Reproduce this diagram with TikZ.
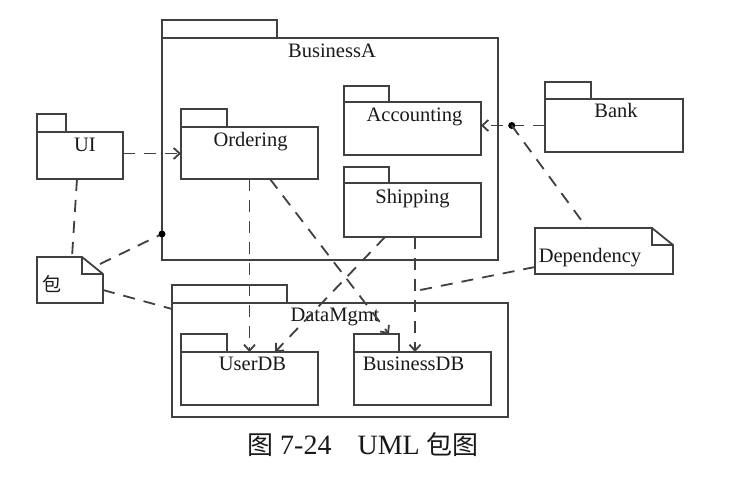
\documentclass[tikz,border=0pt]{standalone}
\usepackage{fontspec}
\setmainfont{Liberation Serif}
\newfontfamily\cjk{Noto Sans CJK SC}
\usetikzlibrary{arrows.meta,calc}
\begin{document}
\begin{tikzpicture}[x=1pt,y=-1pt,line width=1.8pt,
  every path/.style={draw=black!75},
  pkgbody/.style={draw=black!75,rectangle,anchor=north west,inner sep=0pt,outer sep=0pt},
  notebox/.style={draw=none,rectangle,anchor=north west,inner sep=0pt,outer sep=0pt},
  lbl/.style={anchor=base,inner sep=0pt,text=black!90,font=\fontsize{20.5}{21}\selectfont},
  link/.style={dash pattern=on 12pt off 9pt},
  dep/.style={dash pattern=on 12pt off 9pt,-{Straight Barb[length=6pt,width=11pt]}},
  dotmark/.style={circle,fill=black,inner sep=0pt,minimum size=7pt}]
\useasboundingbox[fill=white,draw=none] (0,0) rectangle (730,482);

% BusinessA
\node[pkgbody,minimum width=336pt,minimum height=222pt] (bizA) at (162,38) {};
\draw (bizA.north west) rectangle ++(115,-18);
\node[lbl] (bizAT) at ([xshift=2pt,yshift=-19pt]bizA.north) {BusinessA};

% Ordering
\node[pkgbody,minimum width=137pt,minimum height=52pt] (ordering) at (181,127) {};
\draw (ordering.north west) rectangle ++(46,-18);
\node[lbl] (orderingT) at ([xshift=1pt,yshift=-19pt]ordering.north) {Ordering};

% Accounting
\node[pkgbody,minimum width=137pt,minimum height=53pt] (accounting) at (344,102) {};
\draw (accounting.north west) rectangle ++(45,-16);
\node[lbl] (accountingT) at ([xshift=2pt,yshift=-19pt]accounting.north) {Accounting};

% Shipping
\node[pkgbody,minimum width=137pt,minimum height=54pt] (shipping) at (344,183) {};
\draw (shipping.north west) rectangle ++(45,-16);
\node[lbl] (shippingT) at ([xshift=0pt,yshift=-20pt]shipping.north) {Shipping};

% UI
\node[pkgbody,minimum width=86pt,minimum height=47pt] (ui) at (37,132) {};
\draw (ui.north west) rectangle ++(29,-18);
\node[lbl] (uiT) at ([xshift=5pt,yshift=-19pt]ui.north) {UI};

% Bank
\node[pkgbody,minimum width=138pt,minimum height=53pt] (bank) at (545,99) {};
\draw (bank.north west) rectangle ++(46,-17);
\draw[line width=2.8pt] (bank.north east) -- (bank.south east);
\node[lbl] (bankT) at ([xshift=2pt,yshift=-18pt]bank.north) {Bank};

% DataMgmt
\node[pkgbody,minimum width=336pt,minimum height=114pt] (dataM) at (172,303) {};
\draw (dataM.north west) rectangle ++(115,-18);
\node[lbl] (dataMT) at ([xshift=-5pt,yshift=-18pt]dataM.north) {DataMgmt};

% UserDB
\node[pkgbody,minimum width=137pt,minimum height=53pt] (userdb) at (181,352) {};
\draw (userdb.north west) rectangle ++(46,-18);
\node[lbl] (userdbT) at ([xshift=3pt,yshift=-18pt]userdb.north) {UserDB};

% BusinessDB
\node[pkgbody,minimum width=137pt,minimum height=53pt] (busdb) at (354,352) {};
\draw (busdb.north west) rectangle ++(45,-18);
\node[lbl] (busdbT) at ([xshift=-9pt,yshift=-18pt]busdb.north) {BusinessDB};

% Note 包
\node[notebox,minimum width=66pt,minimum height=46pt] (noteP) at (37,257) {};
\draw (noteP.north west) -- ([xshift=-21pt]noteP.north east) -- ([yshift=-17pt]noteP.north east) -- (noteP.south east) -- (noteP.south west) -- cycle;
\draw ([xshift=-21pt]noteP.north east) |- ([yshift=-17pt]noteP.north east);
\node[inner sep=0pt,text=black!90,font=\cjk\fontsize{19}{20}\selectfont] (notePT) at (52,284) {包};

% Note Dependency
\node[notebox,minimum width=138pt,minimum height=46pt] (noteD) at (535,228) {};
\draw (noteD.north west) -- ([xshift=-21pt]noteD.north east) -- ([yshift=-17pt]noteD.north east) -- (noteD.south east) -- (noteD.south west) -- cycle;
\draw ([xshift=-21pt]noteD.north east) |- ([yshift=-17pt]noteD.north east);
\node[lbl] (noteDT) at ([xshift=-14pt,yshift=-34pt]noteD.north) {Dependency};

% Connectors
\draw[dep] ([yshift=2pt]ui.east) -- ([yshift=2pt]ui.east -| ordering.west);
\draw[link] ([xshift=-3pt]ui.south) -- ([xshift=2pt]noteP.north);

\coordinate (dot1) at ([yshift=26pt]bizA.south west);
\coordinate (pOut) at (100,264);
\draw[link] (pOut) -- (dot1);
\node[dotmark] (dot1m) at (dot1) {};
\draw[link] ([yshift=-10pt]noteP.east) -- ([yshift=-6pt]dataM.north west);

\draw[dep] (bank.west) -- (bank.west -| accounting.east);
\coordinate (dot2) at ($(bank.west)!0.52!(bank.west -| accounting.east)$);
\node[dotmark] (dot2m) at (dot2) {};
\draw[link] (dot2) -- ([xshift=-17pt]noteD.north);

\coordinate (shipS) at ([xshift=2.5pt]shipping.south);
\coordinate (busN) at (shipS |- busdb.north);
\draw[dep] (shipS) -- (busN);
\coordinate (junc) at ($(shipS)!0.47!(busN)$);
\draw[link] ([yshift=-16pt]noteD.west) -- (junc);

\draw[dep] (ordering.south) -- (ordering.south |- userdb.north);
\draw[dep] ([xshift=-27.5pt]shipping.south) -- ([xshift=25.5pt]userdb.north);
\draw[dep] ([xshift=20.5pt]ordering.south) -- ([xshift=35pt,yshift=18pt]busdb.north west);

% Caption
\node[anchor=base,inner sep=0pt,text=black!90,font=\fontsize{28}{30}\selectfont] (caption) at (363,454) {{\cjk\fontsize{26}{30}\selectfont 图} 7-24\hspace{26pt}UML {\cjk\fontsize{26}{30}\selectfont 包图}};
\end{tikzpicture}
\end{document}
